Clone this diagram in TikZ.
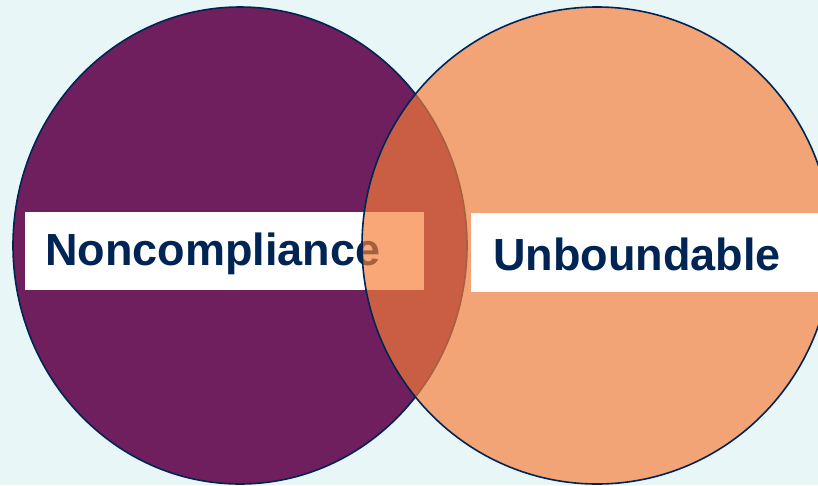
\documentclass[tikz,border=0pt]{standalone}
\usepackage{fontspec}
\setmainfont{Liberation Sans}
\begin{document}
\definecolor{bgcol}{RGB}{232,246,248}
\definecolor{plum}{RGB}{111,31,94}
\definecolor{apricot}{RGB}{248,125,55}
\definecolor{navy}{RGB}{0,36,84}
\begin{tikzpicture}[x=1pt,y=-1pt,
  setoutline/.style={draw=navy,line width=1.6pt},
  labelbox/.style={fill=white,draw=none,inner sep=0pt},
  labeltext/.style={font=\fontsize{45}{50}\selectfont\bfseries,text=navy,inner sep=0pt,anchor=base west}]
  % canvas
  \fill[bgcol] (0,0) rectangle (818,485);
  \useasboundingbox (0,0) rectangle (818,485);
  % left set
  \path[setoutline,fill=plum] (240,245.5) ellipse [x radius=227pt, y radius=238.5pt];
  \fill[white] (25,212) rectangle (424,290);
  \node[labeltext] (nonc) at (45,265) {Noncompliance};
  % right set, translucent over the left one
  \path[fill=apricot,fill opacity=0.67,draw=navy,line width=1.6pt] (597,245.5) ellipse [x radius=235pt, y radius=238.5pt];
  \fill[white] (471,213) rectangle (830,292);
  \node[labeltext] (unb) at (493,270) {Unboundable};
\end{tikzpicture}
\end{document}
